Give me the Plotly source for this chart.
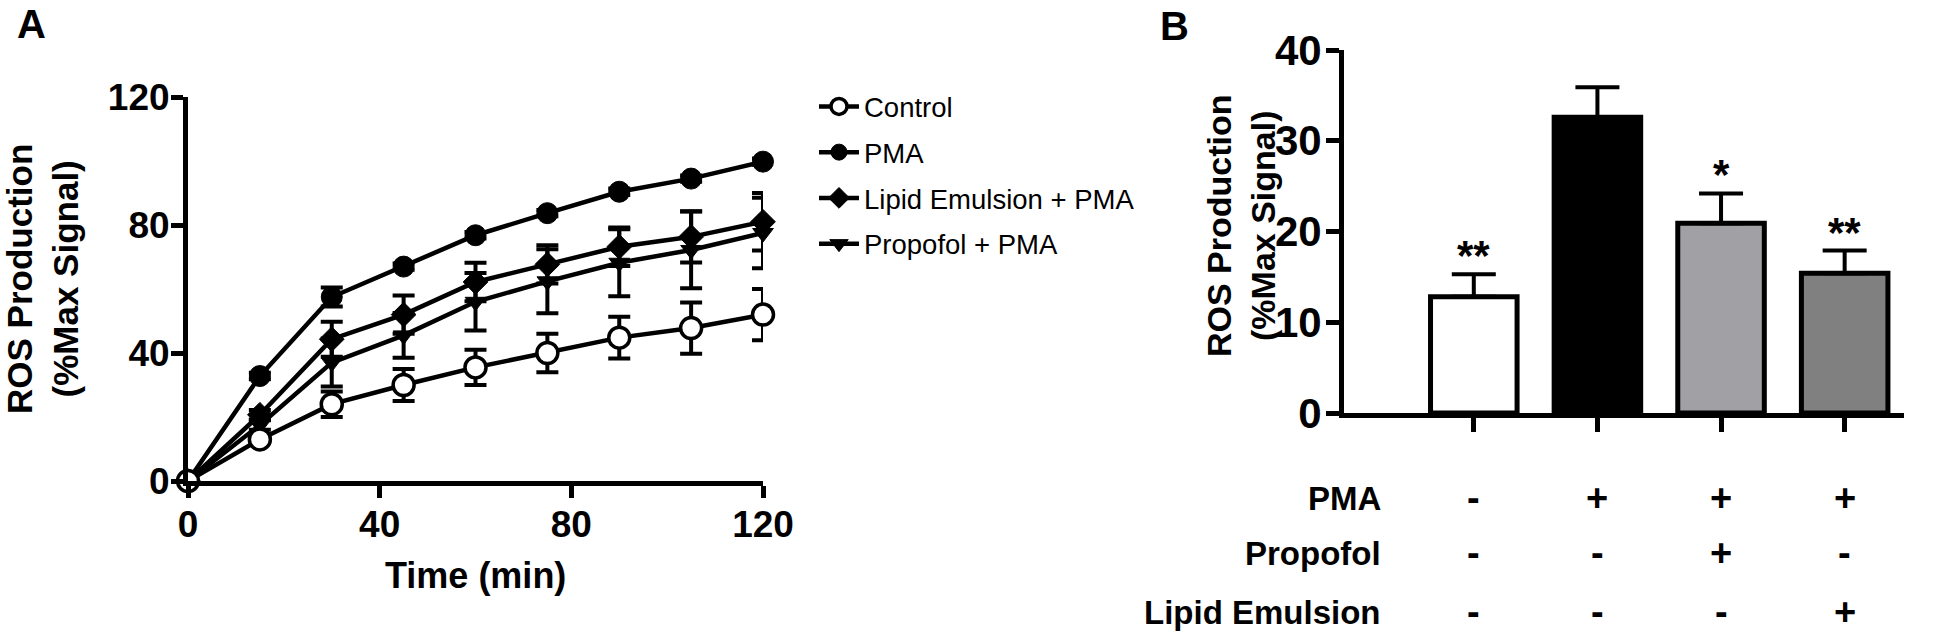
import plotly.graph_objects as go

# ---------------- Panel A data ----------------
time_min = [0, 15, 30, 45, 60, 75, 90, 105, 120]
control = [0, 13, 24, 30, 35.5, 40, 44.8, 47.8, 52]
control_err = [0, 1, 4, 5, 5.5, 6, 6.5, 8, 8]
pma = [0, 32.8, 57.5, 67, 76.8, 83.7, 90.4, 94.5, 99.8]
pma_err = [0, 1, 3, 1, 1, 1, 1, 1, 1]
lipid_pma = [0, 20.7, 44.3, 52, 62.2, 67.7, 73.2, 76.3, 81]
lipid_pma_err = [0, 1.5, 5.5, 6, 6, 6, 6, 8, 9]
propofol_pma = [0, 17.5, 37, 45.5, 56, 62.4, 68.2, 72.2, 77.5]
propofol_pma_err = [0, 1.5, 7.5, 7, 9, 10, 10.5, 12, 11]

series_names = ["Control", "PMA", "Lipid Emulsion + PMA", "Propofol + PMA"]

# ---------------- Panel B data ----------------
bar_groups = [0, 1, 2, 3]
bar_values = [12.8, 32.6, 20.9, 15.4]
bar_errors = [2.5, 3.3, 3.3, 2.5]
bar_colors = ["#ffffff", "#000000", "#a1a1a5", "#808080"]
bar_stars = ["**", "", "*", "**"]
row_labels = ["PMA", "Propofol", "Lipid Emulsion"]
row_pma = ["-", "+", "+", "+"]
row_propofol = ["-", "-", "+", "-"]
row_lipid = ["-", "-", "-", "+"]

W, H = 1943, 644
ARIAL = "Liberation Sans, Arial, sans-serif"

def px(x):
    return x / W

def py(y):
    return 1 - y / H

fig = go.Figure()

styles = [
    (control, control_err, dict(symbol="circle", size=21, color="white", line=dict(color="black", width=3.5))),
    (pma, pma_err, dict(symbol="circle", size=21, color="black", line=dict(color="black", width=1))),
    (lipid_pma, lipid_pma_err, dict(symbol="diamond", size=19, color="black", line=dict(color="black", width=1))),
    (propofol_pma, propofol_pma_err, dict(symbol="triangle-down", size=18, color="black", line=dict(color="black", width=1))),
]

order = [3, 2, 1, 0]
for i in order:
    vals, errs, mk = styles[i]
    fig.add_trace(go.Scatter(
        x=time_min, y=vals, name=series_names[i], mode="lines+markers",
        line=dict(color="black", width=4.5), marker=mk,
        error_y=dict(type="data", array=errs, visible=True, color="black", thickness=4, width=11),
        cliponaxis=False, xaxis="x", yaxis="y",
        legendgroup=series_names[i], legendrank=i + 1,
    ))

fig.add_trace(go.Bar(
    x=bar_groups, y=bar_values, width=0.7,
    marker=dict(color=bar_colors, line=dict(color="black", width=5)),
    error_y=dict(type="data", array=bar_errors, arrayminus=[0, 0, 0, 0], symmetric=False,
                 visible=True, color="black", thickness=4, width=22),
    xaxis="x2", yaxis="y2", showlegend=False, cliponaxis=False,
))

axis_common = dict(showgrid=False, zeroline=False, showline=True, linecolor="black",
                   ticks="outside", tickcolor="black", mirror=False, automargin=False)

fig.update_layout(
    xaxis=dict(domain=[px(188), px(763)], range=[0, 120], tickvals=[0, 40, 80, 120],
               linewidth=5, tickwidth=4.5, ticklen=12, anchor="y", ticklabelstandoff=-5,
               tickfont=dict(family=ARIAL, size=37, color="black", weight="bold"), **axis_common),
    yaxis=dict(domain=[py(481), py(97)], range=[0, 120], tickvals=[0, 40, 80, 120],
               linewidth=5, tickwidth=4.5, ticklen=12, anchor="x", ticklabelstandoff=-6,
               tickfont=dict(family=ARIAL, size=37, color="black", weight="bold"), **axis_common),
    xaxis2=dict(domain=[px(1344), px(1904)], range=[-1.05, 3.48], tickvals=bar_groups,
                showticklabels=False, linewidth=5, tickwidth=4.5, ticklen=14, anchor="y2",
                **axis_common),
    yaxis2=dict(domain=[py(413), py(50)], range=[0, 40], tickvals=[0, 10, 20, 30, 40],
                linewidth=5, tickwidth=4.5, ticklen=13, anchor="x2", ticklabelstandoff=-4,
                tickfont=dict(family=ARIAL, size=42, color="black", weight="bold"), **axis_common),
)

def ann(text, x, y, size, xref="paper", yref="paper", xanchor="center", yanchor="middle", **kw):
    return dict(text=text, x=x, y=y, xref=xref, yref=yref, xanchor=xanchor, yanchor=yanchor,
                showarrow=False, font=dict(family=ARIAL, size=size, color="black"), **kw)

annotations = [
    ann("<b>A</b>", px(31), py(24), 40),
    ann("<b>B</b>", px(1174), py(26), 40),
    ann("<b>ROS Production<br>(%Max Signal)</b>", px(42), py(279), 35, textangle=-90),
    ann("<b>ROS Production<br>(%Max Signal)</b>", px(1241), py(226), 34, textangle=-90),
    ann("<b>Time (min)</b>", px(475), py(575), 36),
]

for g, v, e, s in zip(bar_groups, bar_values, bar_errors, bar_stars):
    if s:
        annotations.append(ann("<b>%s</b>" % s, g, v + e, 42, xref="x2", yref="y2",
                               yanchor="bottom", yshift=-7))

row_y = [py(498), py(553), py(612)]
for label, yy, signs in zip(row_labels, row_y, [row_pma, row_propofol, row_lipid]):
    annotations.append(ann("<b>%s</b>" % label, px(1383), yy, 33, xanchor="right"))
    for g, s in zip(bar_groups, signs):
        annotations.append(ann("<b>%s</b>" % s, g, yy, 38, xref="x2"))

fig.update_layout(
    annotations=annotations,
    width=W, height=H,
    margin=dict(l=0, r=0, t=0, b=0, autoexpand=False),
    paper_bgcolor="white", plot_bgcolor="white",
    showlegend=True,
    legend=dict(x=px(814), y=py(82), xanchor="left", yanchor="top",
                font=dict(family=ARIAL, size=27.5, color="black"),
                tracegroupgap=7, bgcolor="rgba(0,0,0,0)", itemwidth=40),
)

fig.write_html("out.html", config={"displayModeBar": False},
               post_script="document.body.style.margin='0px';")
